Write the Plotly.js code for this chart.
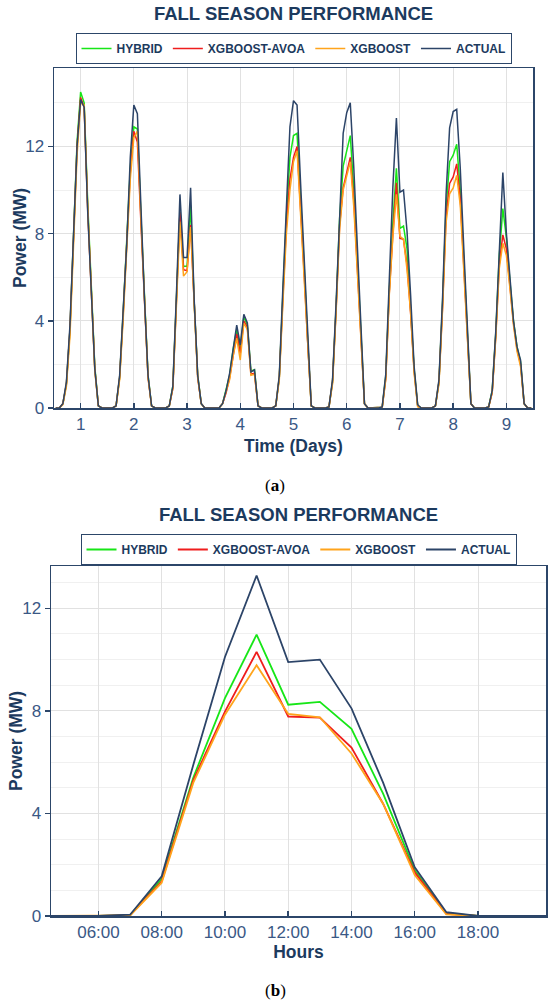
<!DOCTYPE html>
<html>
<head>
<meta charset="utf-8">
<script src="https://cdn.plot.ly/plotly-3.0.1.min.js"></script>
<style>
html,body{margin:0;padding:0;background:#fff;width:550px;height:1004px;overflow:hidden}
#chartA{position:absolute;left:0;top:0;width:550px;height:500px}
#chartB{position:absolute;left:0;top:500px;width:550px;height:504px}
</style>
</head>
<body>
<div id="chartA"></div>
<div id="chartB"></div>
<script>
// ---------- DATA ----------
const seriesNames = ['HYBRID', 'XGBOOST-AVOA', 'XGBOOST', 'ACTUAL'];
const chartTitle = 'FALL SEASON PERFORMANCE';

// (a) nine fall days, hourly values 05:00 .. 19:00 each day
const days = [1, 2, 3, 4, 5, 6, 7, 8, 9];
const hours = [5, 6, 7, 8, 9, 10, 11, 12, 13, 14, 15, 16, 17, 18, 19];

const hybrid = [
  0,0,0.2,1.1,3.6,7.8,12.2,14.5,14.0,9.4,5.5,1.9,0.1,0,0,
  0,0,0.1,1.4,4.4,7.4,11.0,12.9,12.8,8.8,5.0,1.5,0.1,0,0,
  0,0,0.1,1.0,5.0,9.0,6.5,6.5,9.3,4.9,1.5,0.2,0,0,0,
  0,0,0.2,0.8,1.5,2.7,3.6,2.7,4.2,3.8,1.7,1.75,0.1,0,0,
  0,0,0.1,1.4,5.2,8.8,11.5,12.5,12.6,9.8,6.5,3.1,0.1,0,0,
  0,0,0.05,1.2,4.6,8.7,11.1,11.8,12.5,10.0,6.8,3.3,0.2,0,0,
  0,0,0.03,1.45,5.4,8.5,11.0,8.24,8.35,7.3,4.77,1.78,0.1,0,0,
  0,0,0.1,1.2,4.8,9.2,11.3,11.6,12.1,10.0,6.8,3.3,0.2,0,0,
  0,0,0.05,0.8,3.4,7.0,9.15,7.8,5.8,4.0,2.8,2.1,0.2,0,0
];
const xgboostAvoa = [
  0,0,0.2,1.1,3.6,7.7,12.0,14.25,13.8,9.1,5.3,1.8,0.1,0,0,
  0,0,0.1,1.4,4.3,7.3,10.8,12.7,12.2,8.5,4.9,1.4,0.1,0,0,
  0,0,0.1,0.9,4.9,9.0,6.35,6.3,8.4,4.7,1.4,0.2,0,0,0,
  0,0,0.2,0.7,1.4,2.5,3.4,2.5,4.0,3.7,1.55,1.6,0.1,0,0,
  0,0,0.1,1.4,5.0,8.4,10.5,11.5,12.0,9.3,6.2,3.0,0.1,0,0,
  0,0,0.05,1.2,4.5,8.4,10.1,10.8,11.5,9.5,6.5,3.1,0.2,0,0,
  0,0,0.03,1.35,5.3,7.97,10.33,7.78,7.74,6.57,4.38,1.7,0.08,0,0,
  0,0,0.1,1.2,4.6,8.8,10.3,10.6,11.2,9.6,6.5,3.1,0.2,0,0,
  0,0,0.05,0.7,3.3,6.6,7.94,7.3,5.6,3.9,2.7,2.0,0.2,0,0
];
const xgboost = [
  0,0,0.15,1.0,3.3,7.4,11.6,14.0,13.9,9.2,5.2,1.7,0.1,0,0,
  0,0,0.1,1.3,4.1,7.1,10.5,12.4,12.7,8.7,4.9,1.4,0.1,0,0,
  0,0,0.1,0.9,4.7,8.55,6.05,6.25,8.3,4.6,1.4,0.2,0,0,0,
  0,0,0.2,0.7,1.3,2.4,3.2,2.2,3.9,3.6,1.5,1.55,0.1,0,0,
  0,0,0.1,1.3,4.8,8.0,10.0,11.3,11.8,9.0,6.0,2.9,0.1,0,0,
  0,0,0.05,1.1,4.4,8.2,10.0,10.7,11.3,9.2,6.3,3.0,0.2,0,0,
  0,0,0.02,1.3,5.2,7.85,9.8,7.88,7.75,6.34,4.38,1.6,0.06,0,0,
  0,0,0.1,1.1,4.5,8.5,9.83,10.1,10.67,9.3,6.3,3.0,0.2,0,0,
  0,0,0.05,0.7,3.2,6.4,7.56,7.0,5.5,3.8,2.6,1.9,0.2,0,0
];
const actual = [
  0,0,0.2,1.2,3.8,8.0,12.0,14.15,13.8,9.0,5.3,1.8,0.1,0,0,
  0,0,0.1,1.5,4.5,7.5,11.5,13.9,13.5,8.8,5.0,1.5,0.1,0,0,
  0,0,0.1,1.0,5.2,9.8,6.9,6.9,10.1,5.0,1.5,0.2,0,0,0,
  0,0,0.2,0.8,1.6,2.8,3.8,2.9,4.3,3.9,1.65,1.75,0.1,0,0,
  0,0,0.1,1.5,5.5,9.5,12.9,14.1,13.9,10.3,6.8,3.2,0.1,0,0,
  0,0,0.05,1.3,4.8,9.0,12.6,13.55,14.0,11.0,7.3,3.5,0.2,0,0,
  0,0,0.05,1.55,5.9,10.1,13.3,9.9,10.0,8.1,5.2,1.9,0.15,0,0,
  0,0,0.1,1.3,5.0,9.8,12.85,13.6,13.7,11.0,7.3,3.5,0.2,0,0,
  0,0,0.05,0.8,3.5,7.3,10.8,8.0,5.8,4.0,2.8,2.2,0.2,0,0
];

// (b) one day, hourly
const hoursB = [4, 5, 6, 7, 8, 9, 10, 11, 12, 13, 14, 15, 16, 17, 18, 19, 20, 21];
const hybridB      = [0,0,0,0.03,1.45,5.4,8.5,10.97,8.24,8.35,7.3,4.77,1.78,0.1,0,0,0,0];
const xgboostAvoaB = [0,0,0,0.03,1.35,5.3,7.97,10.3,7.78,7.74,6.57,4.38,1.7,0.08,0,0,0,0];
const xgboostB     = [0,0,0,0.02,1.3,5.2,7.85,9.78,7.88,7.75,6.34,4.38,1.6,0.06,0,0,0,0];
const actualB      = [0,0,0,0.05,1.55,5.9,10.1,13.28,9.9,10.0,8.1,5.2,1.9,0.15,0,0,0,0];
const hourTickVals = [6, 8, 10, 12, 14, 16, 18];
const hourTickText = ['06:00', '08:00', '10:00', '12:00', '14:00', '16:00', '18:00'];

// ---------- STYLE ----------
const FONT = 'Liberation Sans, Arial, Helvetica, sans-serif';
const NAVY = '#1c3a5e';
const TICK = '#3a5885';
const AXIS = '#2c4669';
const colors = ['#17e617', '#ef1d1d', '#ffa41c', '#2c4468'];

// x position of hour h on day d (15 hourly samples per day, centred on noon)
const xTop = [];
days.forEach(d => hours.forEach(h => xTop.push(d + (h - 12) / hours.length)));

function traces(x, ys, w) {
  return ys.map((y, i) => ({
    type: 'scatter', mode: 'lines', x: x, y: y, name: seriesNames[i],
    line: {color: colors[i], width: w}, hoverinfo: 'x+y'
  }));
}

function baseLayout(W, H, m, legendY, titleY) {
  return {
    width: W, height: H, margin: m,
    paper_bgcolor: '#fff', plot_bgcolor: '#fff',
    font: {family: FONT, color: NAVY},
    showlegend: true,
    title: {text: '<b>' + chartTitle + '</b>', font: {family: FONT, size: 18.5, color: NAVY},
            x: 0.5, xref: 'paper', xanchor: 'center', y: titleY, yref: 'container', yanchor: 'middle'},
    legend: {orientation: 'h', x: 0.5, xanchor: 'center', y: legendY, yanchor: 'top',
             bordercolor: AXIS, borderwidth: 1, bgcolor: '#fff',
             font: {family: FONT, size: 12, color: NAVY, weight: 'bold'}, itemwidth: 30}
  };
}

function axisBase() {
  return {showline: true, mirror: true, linecolor: AXIS, linewidth: 1.5,
          showgrid: true, gridcolor: '#e1e1e1', gridwidth: 1, zeroline: false,
          tickfont: {family: FONT, size: 17, color: TICK},
          tickcolor: AXIS, ticklen: 5, tickwidth: 1.5, automargin: false};
}

function yTitle(m, W, cx) {
  return {text: '<b>Power (MW)</b>', textangle: -90, xref: 'paper', yref: 'paper', showarrow: false,
          x: -(m.l - cx) / (W - m.l - m.r), xanchor: 'center', y: 0.5, yanchor: 'middle',
          font: {family: FONT, size: 17.5, color: NAVY}};
}

function caption(letter, m, W, H, py, plotBottom) {
  return {text: '(<b>' + letter + '</b>)', xref: 'paper', yref: 'paper', showarrow: false,
          x: (275 - m.l) / (W - m.l - m.r), xanchor: 'center',
          y: -(py - plotBottom) / (H - m.t - m.b), yanchor: 'middle',
          font: {family: 'Liberation Serif, Times New Roman, serif', size: 17, color: '#000'}};
}

// ---------- CHART (a) ----------
const HA = 500, mA = {l: 54, r: 17, t: 68, b: 92};
const layA = baseLayout(550, HA, mA, (408 - 33) / (HA - mA.t - mA.b), 1 - 14 / HA);
layA.xaxis = Object.assign(axisBase(), {
  range: [0.5, 9.5], tickmode: 'array', tickvals: days, ticktext: days.map(String), ticks: 'inside',
  title: {text: '<b>Time (Days)</b>', font: {family: FONT, size: 17.5, color: NAVY}, standoff: 7}
});
layA.yaxis = Object.assign(axisBase(), {
  range: [0, 15.6], dtick: 4, tick0: 0, ticks: 'outside',
  minor: {dtick: 2, showgrid: true, gridcolor: '#f0f0f0', ticks: ''}
});
layA.annotations = [yTitle(mA, 550, 20), caption('a', mA, 550, HA, 485, 408)];
Plotly.newPlot('chartA', traces(xTop, [hybrid, xgboostAvoa, xgboost, actual], 1.5), layA,
  {displayModeBar: false, staticPlot: true});

// ---------- CHART (b) ----------
const HB = 504, mB = {l: 51, r: 4, t: 66, b: 88};
const layB = baseLayout(550, HB, mB, (416 - 34) / (HB - mB.t - mB.b), 1 - 15 / HB);
layB.xaxis = Object.assign(axisBase(), {
  range: [4.5, 20.15], tickmode: 'array', tickvals: hourTickVals, ticktext: hourTickText, ticks: 'inside',
  title: {text: '<b>Hours</b>', font: {family: FONT, size: 17.5, color: NAVY}, standoff: 4}
});
layB.yaxis = Object.assign(axisBase(), {
  range: [0, 13.65], dtick: 4, tick0: 0, ticks: 'outside',
  minor: {dtick: 1, showgrid: true, gridcolor: '#f0f0f0', ticks: ''}
});
layB.annotations = [yTitle(mB, 550, 16), caption('b', mB, 550, HB, 490, 416)];
Plotly.newPlot('chartB', traces(hoursB, [hybridB, xgboostAvoaB, xgboostB, actualB], 1.8), layB,
  {displayModeBar: false, staticPlot: true});
</script>
</body>
</html>
